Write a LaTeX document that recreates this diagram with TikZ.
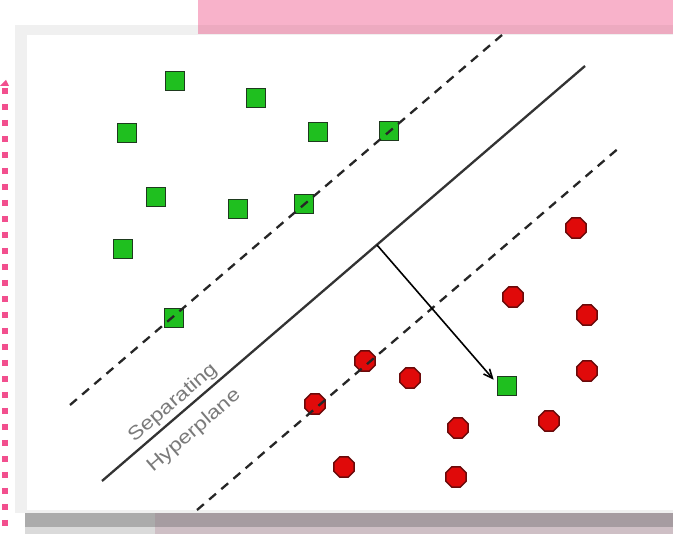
\documentclass[tikz,border=0pt]{standalone}
\usepackage{fontspec}
\setmainfont{Liberation Sans}
\usetikzlibrary{shapes.geometric,arrows.meta}
\definecolor{bandpink}{HTML}{F8B2CA}
\definecolor{bandpinkd}{HTML}{EDAAC0}
\definecolor{dotpink}{HTML}{F24F8E}
\definecolor{sqgreen}{HTML}{1FBF1F}
\definecolor{sqedge}{HTML}{1E3A1E}
\definecolor{dotred}{HTML}{E00A0A}
\definecolor{dotedge}{HTML}{6A0A0A}
\definecolor{labelgray}{HTML}{7A7A7A}
\definecolor{bandgrayA}{HTML}{ABABAB}
\definecolor{bandgrayB}{HTML}{DADADA}
\definecolor{bandmauveA}{HTML}{A69CA1}
\definecolor{bandmauveB}{HTML}{CEBFC5}
\tikzset{
  pt/.style={draw=sqedge, fill=sqgreen, line width=1.6pt, minimum size=19pt, inner sep=0pt, rectangle},
  rd/.style={draw=dotedge, fill=dotred, line width=1.4pt, regular polygon, regular polygon sides=8, minimum size=22pt, inner sep=0pt},
  margin/.style={draw=black!85, line width=2.3pt, dash pattern=on 9pt off 7pt},
  hyper/.style={draw=black!80, line width=2.3pt},
  lbl/.style={text=labelgray, font=\fontsize{19}{19}\selectfont, inner sep=0pt}
}
\begin{document}
\begin{tikzpicture}[x=1pt,y=-1pt]
\useasboundingbox (0,0) rectangle (673,534);
% frame
\fill[white] (0,0) rectangle (673,534);
\fill[black!6] (15,25) rectangle (673,513);
\fill[white] (27,35) rectangle (673,510);
\fill[bandpink] (198,0) rectangle (673,34);
\fill[bandpinkd] (198,25) rectangle (673,34);
\fill[bandgrayA] (25,513) rectangle (155,527);
\fill[bandgrayB] (25,527) rectangle (155,534);
\fill[bandmauveA] (155,513) rectangle (673,527);
\fill[bandmauveB] (155,527) rectangle (673,534);
\draw[dotpink, line width=6pt, dash pattern=on 6pt off 10pt] (5,88) -- (5,534);
\fill[dotpink] (0,86) -- (6,80) -- (9,86) -- cycle;
% green squares
\node[pt] (g1) at (175,81) {};
\node[pt] (g2) at (256,98) {};
\node[pt] (g3) at (127,133) {};
\node[pt] (g4) at (318,132) {};
\node[pt] (g5) at (389,131) {};
\node[pt] (g6) at (156,197) {};
\node[pt] (g7) at (238,209) {};
\node[pt] (g8) at (304,204) {};
\node[pt] (g9) at (123,249) {};
\node[pt] (g10) at (174,318) {};
\node[pt] (g11) at (507,386) {};
% red octagons
\node[rd] (r1) at (576,228) {};
\node[rd] (r2) at (513,297) {};
\node[rd] (r3) at (587,315) {};
\node[rd] (r4) at (365,361) {};
\node[rd] (r5) at (410,378) {};
\node[rd] (r6) at (587,371) {};
\node[rd] (r7) at (315,404) {};
\node[rd] (r8) at (549,421) {};
\node[rd] (r9) at (458,428) {};
\node[rd] (r10) at (344,467) {};
\node[rd] (r11) at (456,477) {};
% lines
\coordinate (h1) at (102,481);
\coordinate (h2) at (585,66);
\coordinate (u1) at (70,405);
\coordinate (u2) at (502,35);
\coordinate (l1) at (197,510);
\coordinate (l2) at (620,147);
\coordinate (foot) at (377,245);
\draw[hyper] (h1) -- (h2);
\draw[margin] (u1) -- (u2);
\draw[margin] (l1) -- (l2);
\draw[line width=1.6pt, -{Straight Barb[length=9pt,width=8pt]}] (foot) -- ([xshift=-3pt,yshift=-4pt]g11.north west);
% labels
\node[lbl, rotate=40.7, xscale=1.2] (s1) at (173,403) {Separating};
\node[lbl, rotate=40.7, xscale=1.2] (s2) at (194,431) {Hyperplane};
\end{tikzpicture}
\end{document}
